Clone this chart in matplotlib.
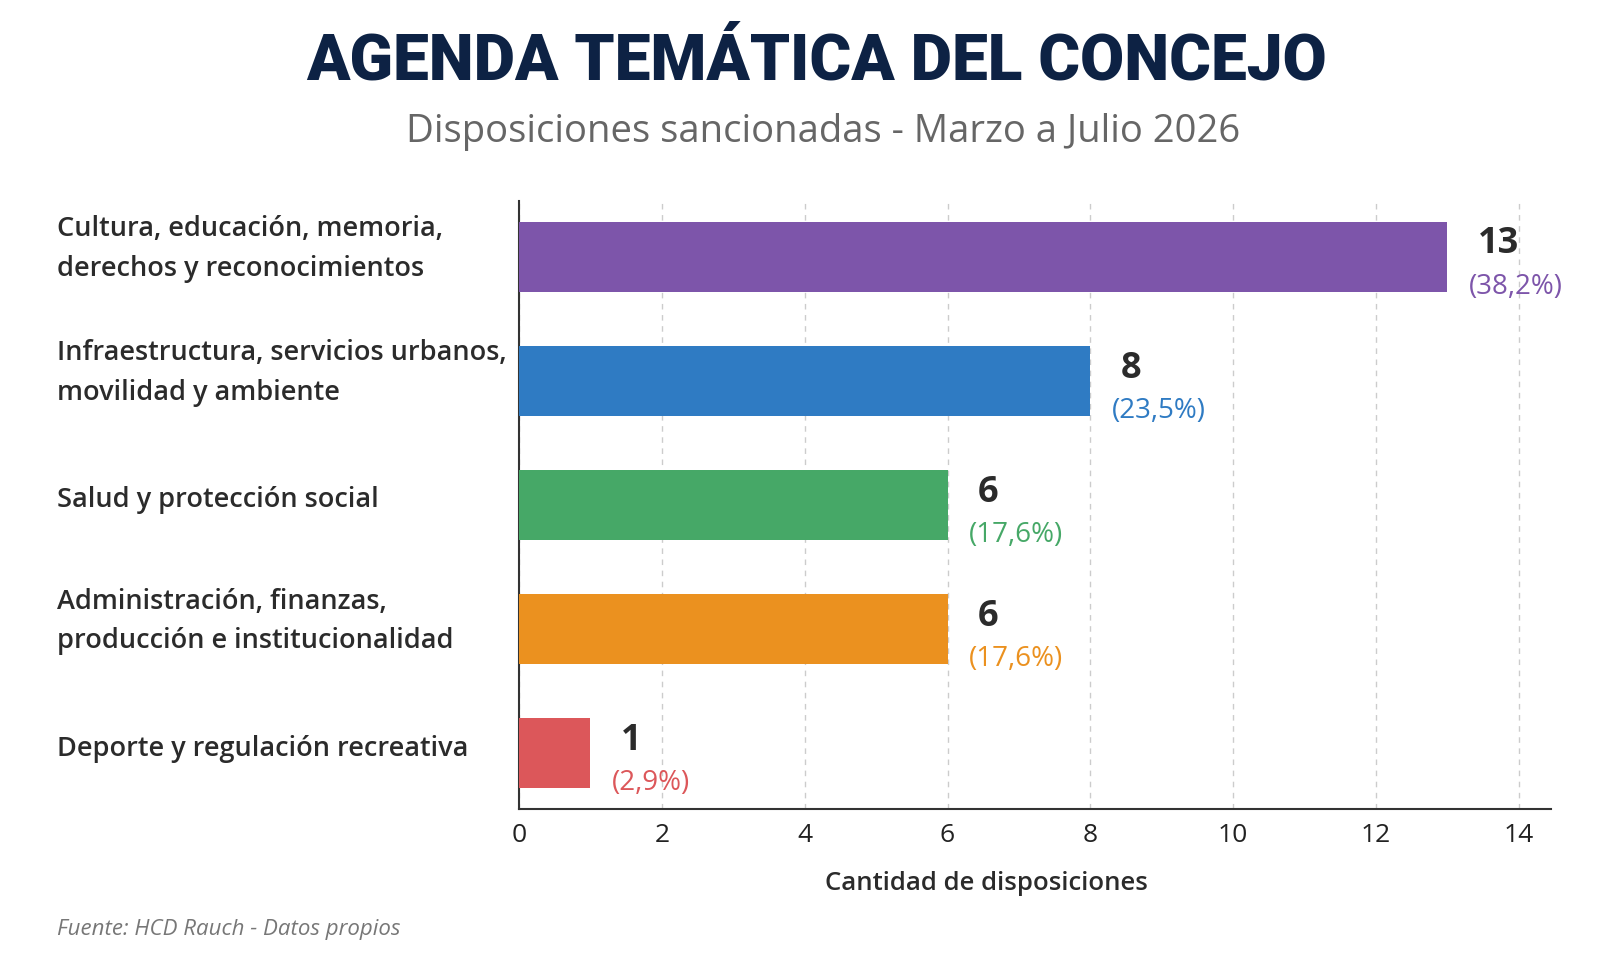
import matplotlib
matplotlib.use('Agg')
from matplotlib import pyplot as plt
from matplotlib.transforms import ScaledTranslation


plt.rcParams['font.family'] = ['Open Sans', 'DejaVu Sans']

categories = ['Cultura, educación, memoria,\nderechos y reconocimientos',
              'Infraestructura, servicios urbanos,\nmovilidad y ambiente',
              'Salud y protección social',
              'Administración, finanzas,\nproducción e institucionalidad',
              'Deporte y regulación recreativa']
values = [13, 8, 6, 6, 1]
colors = ['#7d55aa', '#2f7bc3', '#46a867', '#eb911f', '#dc575a']
x_ticks = [0, 2, 4, 6, 8, 10, 12, 14]

total = sum(values)
W, H = 1619, 971
fig = plt.figure(figsize=(W / 100, H / 100), dpi=100)
ax = fig.add_axes([519 / W, 1 - 809 / H, (1551 - 519) / W, (809 - 201) / H])

ypos = list(range(len(values)))
ax.barh(ypos, values, height=0.56, color=colors, zorder=3)
ax.set_ylim(len(values) - 0.55, -0.45)
ax.set_xlim(0, 14.45)

for y, v, c in zip(ypos, values, colors):
    ax.text(v + 0.42, y - 0.1, str(v), ha='left', va='center',
            fontsize=26, fontweight='bold', color='#2b2b2b')
    pct = f'({v / total * 100:.1f}%)'.replace('.', ',')
    ax.text(v + 0.3, y + 0.24, pct, ha='left', va='center',
            fontsize=20, color=c)

ax.set_yticks(ypos)
ax.set_yticklabels(categories, fontsize=19.5, fontweight='semibold', color='#2b2b2b',
                   ha='left', linespacing=1.55)
ax.tick_params(axis='y', length=0, pad=(519 - 57) * 0.72)
for lbl in ax.get_yticklabels():
    shift = 17 if '\n' in lbl.get_text() else 8
    lbl.set_transform(lbl.get_transform() + ScaledTranslation(0, shift / 100, fig.dpi_scale_trans))
ax.set_xticks(x_ticks)
ax.set_xticklabels([str(t) for t in x_ticks], fontsize=19, color='#222222')
ax.tick_params(axis='x', length=0, pad=10)
ax.grid(axis='x', linestyle=(0, (4, 4)), color='#cccccc', linewidth=1, zorder=0)
for s in ['top', 'right']:
    ax.spines[s].set_visible(False)
for s in ['left', 'bottom']:
    ax.spines[s].set_color('#333333')
    ax.spines[s].set_linewidth(1.5)
ax.set_xlabel('Cantidad de disposiciones', fontsize=18.5, fontweight='semibold',
              color='#2b2b2b')
ax.xaxis.set_label_coords((986 - 519) / (1551 - 519), -(871 - 809) / (809 - 201))

fig.text(816 / W, 1 - 62 / H, 'AGENDA TEMÁTICA DEL CONCEJO', ha='center', va='center',
         fontsize=46, fontweight='heavy', color='#0d2244', family=['Roboto', 'DejaVu Sans'])
fig.text(823 / W, 1 - 132 / H, 'Disposiciones sancionadas - Marzo a Julio 2026',
         ha='center', va='center', fontsize=27.5, color='#666666')
fig.text(57 / W, 1 - 929 / H, 'Fuente: HCD Rauch - Datos propios', ha='left', va='center',
         fontsize=16, style='italic', color='#777777')

plt.savefig('out.png', dpi=100, facecolor='white')
